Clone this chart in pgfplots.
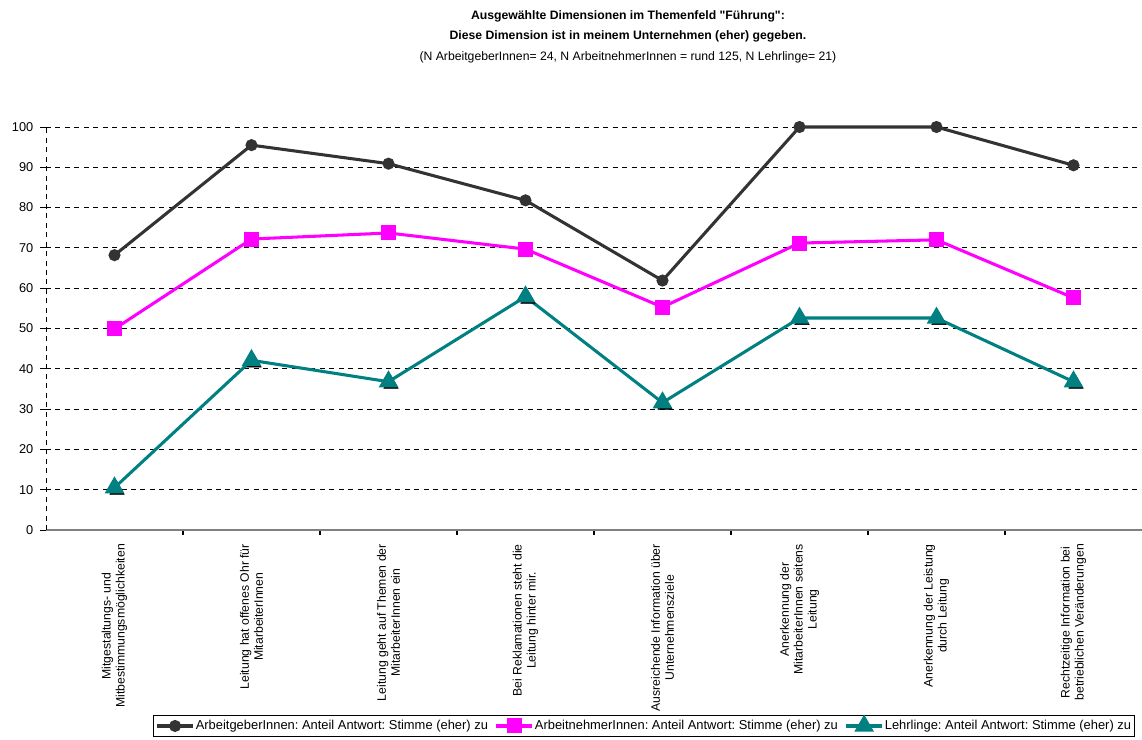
\documentclass[border=0pt]{standalone}
\usepackage{pgfplots}
\pgfplotsset{compat=1.18}
\usepackage{fontspec}
\setmainfont{Liberation Sans}
\frenchspacing
\definecolor{dk}{HTML}{333333}
\definecolor{mag}{HTML}{FF00FF}
\definecolor{tl}{HTML}{008080}
\newcommand{\fs}{\fontsize{8.8}{10}\selectfont}
\newcommand{\fl}{\fontsize{9.3}{10}\selectfont}
\begin{document}
\begin{tikzpicture}
\begin{axis}[
  at={(0pt,0pt)}, anchor=south west,
  width=789.12pt, height=290.16pt, scale only axis,
  xmin=-0.5, xmax=7.5, ymin=0, ymax=100,
  clip=false,
  /pgf/number format/assume math mode=true,
  axis x line*=bottom, axis y line*=left,
  x axis line style={draw=gray, line width=1.3pt},
  y axis line style={black, dash pattern=on 3.6pt off 3.2pt, line width=0.7pt},
  ytick={0,10,...,100},
  ymajorgrids, grid style={black, dash pattern=on 3.6pt off 3.2pt, line width=0.6pt},
  xtick={0,...,7},
  xticklabels={{Mitgestaltungs- und\\Mitbestimmungsmöglichkeiten},
    {Leitung hat offenes Ohr für\\MitarbeiterInnen},
    {Leitung geht auf Themen der\\MitarbeiterInnen ein},
    {Bei Reklamationen steht die\\Leitung hinter mir.},
    {Ausreichende Information über\\Unternehmensziele},
    {Anerkennung der\\MitarbeiterInnen seitens\\Leitung},
    {Anerkennung der Leistung\\durch Leitung},
    {Rechtzeitige  Information bei\\betrieblichen Veränderungen}},
  major x tick style={draw=none},
  minor xtick={0.5,1.5,...,6.5},
  minor x tick style={black, line width=0.8pt},
  y tick style={black, line width=0.7pt},
  tick align=outside,
  major tick length=4pt, minor tick length=3.5pt,
  xticklabel style={rotate=90, anchor=east, align=center, font=\fs, inner sep=0pt},
  xticklabel shift=6pt,
  yticklabel style={font=\fontsize{9.2}{10}\selectfont, inner sep=0pt},
  yticklabel shift=5pt,
  legend columns=3,
  legend style={at={(0.9936,-0.459)}, anchor=north east, draw=black, line width=0.6pt,
    font=\fl, inner sep=1.5pt, nodes={inner xsep=1pt},
    /tikz/every odd column/.append style={column sep=0pt},
    /tikz/every even column/.append style={column sep=4pt}},
  legend image code/.code={\draw[mark repeat=2,mark phase=2,#1] plot coordinates {(0cm,0cm) (0.45cm,0cm) (0.9cm,0cm)};},
]
\addplot[dk, line width=2.2pt, mark=*, mark size=3.2pt, mark options={solid, fill=dk}]
  coordinates {(0,68.2) (1,95.5) (2,90.9) (3,81.8) (4,61.9) (5,100) (6,100) (7,90.5)};
\addlegendentry{ArbeitgeberInnen: Anteil Antwort: Stimme (eher) zu}
\addplot[mag, line width=2.2pt, mark=square*, mark size=4.3pt, mark options={solid, fill=mag}]
  coordinates {(0,49.9) (1,72.2) (2,73.7) (3,69.7) (4,55.3) (5,71.2) (6,72.0) (7,57.6)};
\addlegendentry{ArbeitnehmerInnen: Anteil Antwort: Stimme (eher) zu}
\addplot[black, only marks, mark=triangle*, mark size=6pt, mark options={solid, fill=black, xshift=1.8pt, yshift=-1.8pt}, forget plot]
  coordinates {(0,10.5) (1,42.1) (2,36.8) (3,57.9) (4,31.6) (5,52.6) (6,52.6) (7,36.8)};
\addplot[tl, line width=2.2pt, mark=triangle*, mark size=6pt, mark options={solid, fill=tl}]
  coordinates {(0,10.5) (1,42.1) (2,36.8) (3,57.9) (4,31.6) (5,52.6) (6,52.6) (7,36.8)};
\addlegendentry{Lehrlinge: Anteil Antwort: Stimme (eher) zu}
\end{axis}
\node[font=\bfseries\fs, anchor=base] at (419pt,367.9pt) {Ausgewählte Dimensionen im Themenfeld \textquotedbl Führung\textquotedbl:};
\node[font=\bfseries\fs, anchor=base] at (419pt,352.8pt) {Diese Dimension ist in meinem Unternehmen (eher) gegeben.};
\node[font=\fs, anchor=base] at (419pt,337.7pt) {(N ArbeitgeberInnen= 24, N ArbeitnehmerInnen = rund 125, N Lehrlinge= 21)};
\pgfresetboundingbox
\useasboundingbox (-33.12pt,-151.2pt) rectangle (789.12pt,381.6pt);
\end{tikzpicture}
\end{document}
